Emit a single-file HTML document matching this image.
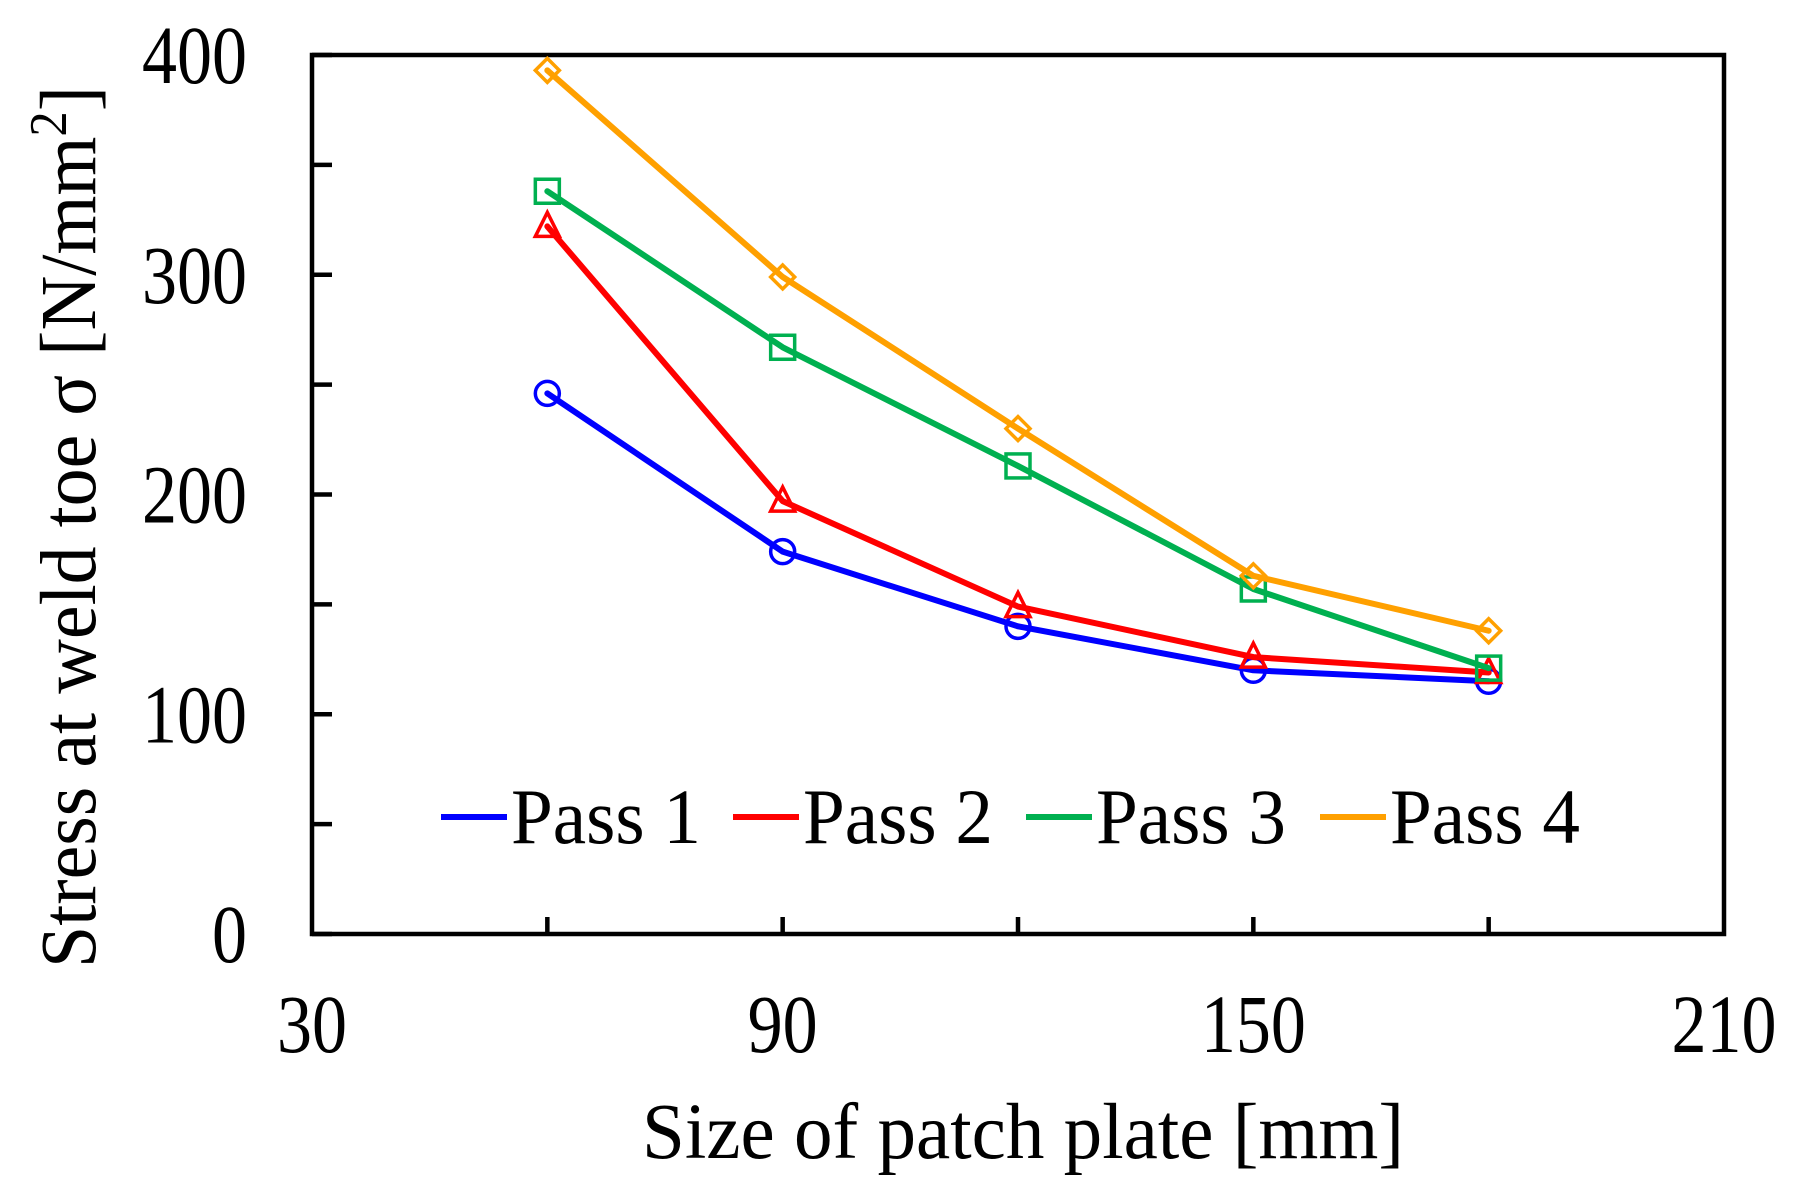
<!DOCTYPE html>
<html><head><meta charset="utf-8"><style>
html,body{margin:0;padding:0;background:#fff;}
svg{display:block;font-family:"Liberation Serif",serif;}
</style></head><body>
<svg id="chart" width="1798" height="1190" viewBox="0 0 1798 1190" xmlns="http://www.w3.org/2000/svg">
<g id="plot"></g>
</svg>
<script>
const categories = [60, 90, 120, 150, 180];
const pass1 = [246, 174, 140, 120, 115];
const pass2 = [322, 197, 149, 126, 119];
const pass3 = [338, 267, 213, 157, 121];
const pass4 = [393, 299, 230, 163, 138];
const xTicks = [30, 90, 150, 210];
const xMinorTicks = [60, 90, 120, 150, 180];
const yTicks = [0, 100, 200, 300, 400];
const yMinorTicks = [50, 150, 250, 350];
const seriesNames = ["Pass 1", "Pass 2", "Pass 3", "Pass 4"];

const L=312, R=1724, T=55, B=934;
const xMin=30, xMax=210, yMin=0, yMax=400;
const xs = v => L + (v-xMin)/(xMax-xMin)*(R-L);
const ys = v => B - (v-yMin)/(yMax-yMin)*(B-T);
const NS="http://www.w3.org/2000/svg";
const g=document.getElementById('plot');
function mk(tag, attrs, parent){const e=document.createElementNS(NS,tag);for(const k in attrs)e.setAttribute(k,attrs[k]);(parent||g).appendChild(e);return e;}

const frame = mk('rect',{x:L,y:T,width:R-L,height:B-T,fill:'none',stroke:'#000','stroke-width':4.5});



xMinorTicks.forEach(v=>{
  const t=mk('line',{x1:xs(v),x2:xs(v),y1:B,y2:B-17,stroke:'#000','stroke-width':4.5});
  
  
});
yTicks.concat(yMinorTicks).forEach(v=>{
  const t=mk('line',{x1:L,x2:L+20,y1:ys(v),y2:ys(v),stroke:'#000','stroke-width':4.5});
  
  
});
xTicks.forEach(v=>{
  const t=mk('text',{x:0,y:0,'text-anchor':'middle','font-size':70,fill:'#000',transform:`translate(${xs(v)},1052) scale(1,1.18)`});
  t.textContent=v;
  
  
});
yTicks.forEach(v=>{
  const t=mk('text',{x:0,y:0,'text-anchor':'end','font-size':70,fill:'#000',transform:`translate(247,${ys(v)+28}) scale(1,1.18)`});
  t.textContent=v;
  
  
});

const xt=mk('text',{x:0,y:0,'text-anchor':'middle','font-size':66,fill:'#000',transform:'translate(1023,1158) scale(1,1.2)',textLength:762,lengthAdjust:'spacingAndGlyphs'});
xt.textContent='Size of patch plate [mm]';



const yt=mk('text',{x:0,y:0,'text-anchor':'middle','font-size':66,fill:'#000',transform:'translate(95,527) rotate(-90) scale(1,1.2)',textLength:882,lengthAdjust:'spacingAndGlyphs'});
yt.innerHTML='Stress at weld toe σ [N/mm<tspan dy="-24" font-size="44">2</tspan><tspan dy="24">]</tspan>';



const colors=['#0000ff','#ff0000','#00b050','#ffa000'];
const data=[pass1,pass2,pass3,pass4];
const shapes=['circle','triangle','square','diamond'];
function marker(shape,x,y,c){
  const s=12;let e;
  if(shape==='circle') e=mk('circle',{cx:x,cy:y,r:s,fill:'none',stroke:c,'stroke-width':3.5});
  else if(shape==='square') e=mk('rect',{x:x-s,y:y-s,width:2*s,height:2*s,fill:'none',stroke:c,'stroke-width':3.5});
  else if(shape==='triangle') e=mk('polygon',{points:`${x},${y-s-2} ${x-s},${y+s-2} ${x+s},${y+s-2}`,fill:'none',stroke:c,'stroke-width':3.5});
  else e=mk('polygon',{points:`${x},${y-s} ${x+s},${y} ${x},${y+s} ${x-s},${y}`,fill:'none',stroke:c,'stroke-width':3.5});
  return e;
}
data.forEach((vals,i)=>{
  const pts=vals.map((v,j)=>xs(categories[j])+','+ys(v)).join(' ');
  const pl=mk('polyline',{points:pts,fill:'none',stroke:colors[i],'stroke-width':6,'stroke-linejoin':'round','stroke-linecap':'round'});
  
  
  vals.forEach((v,j)=>{
    const m=marker(shapes[i],xs(categories[j]),ys(v),colors[i]);
    
    
  });
});

const legX=[441,733,1026,1320];
seriesNames.forEach((n,i)=>{
  const lg=mk('g',{});
  
  
  mk('line',{x1:legX[i],x2:legX[i]+66,y1:817,y2:817,stroke:colors[i],'stroke-width':6},lg);
  const t=mk('text',{x:0,y:0,'font-size':64,fill:'#000',transform:`translate(${legX[i]+70},843) scale(1,1.22)`,textLength:190,lengthAdjust:'spacingAndGlyphs'},lg);
  t.textContent=n;
});
</script>
</body></html>
